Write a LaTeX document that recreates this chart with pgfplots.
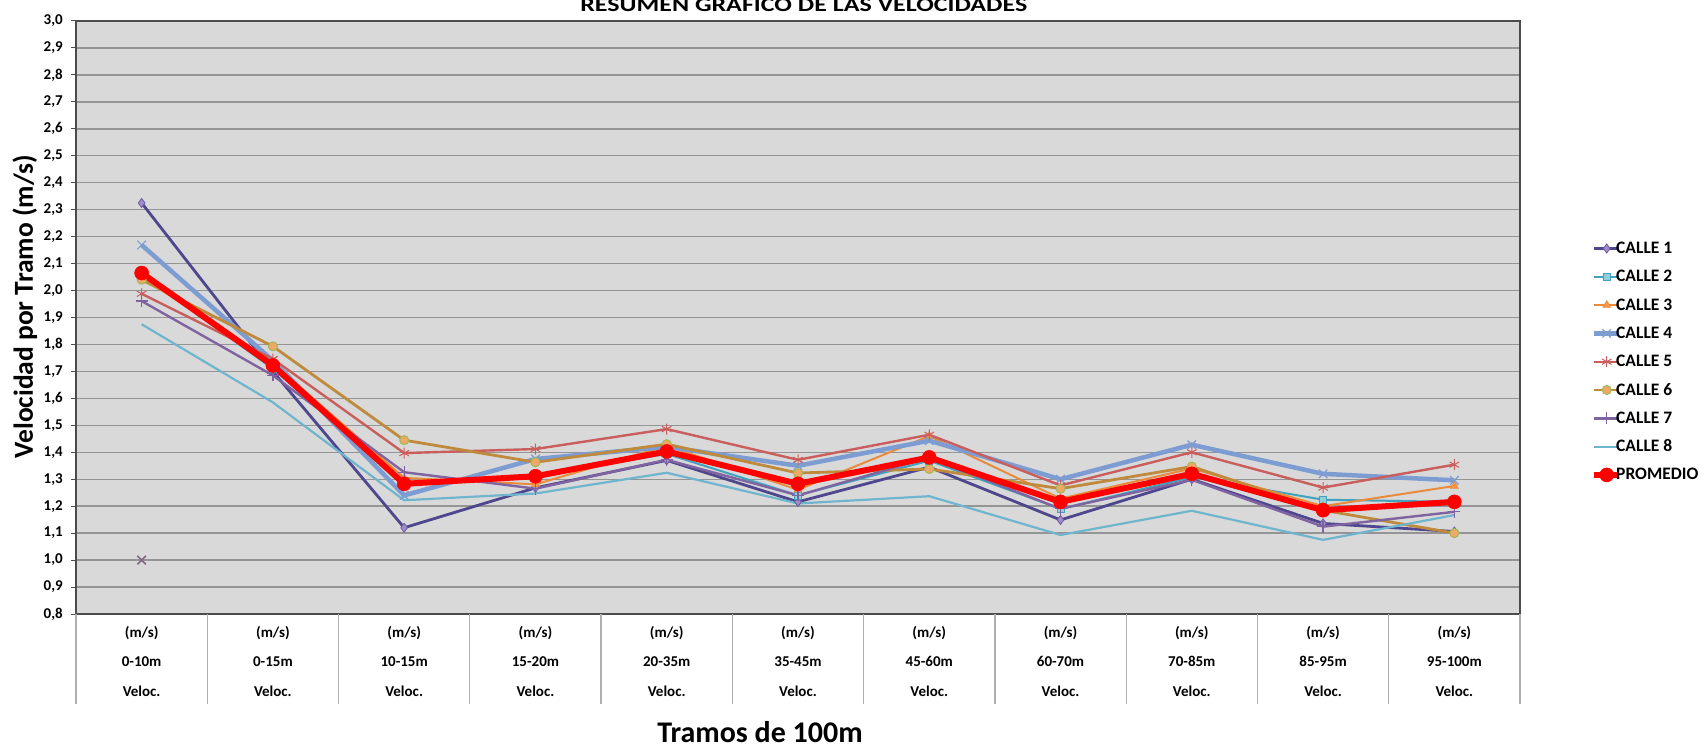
\documentclass[border=0pt]{standalone}
\usepackage{fontspec}
\setmainfont{Carlito}
\usepackage{graphicx}
\usepackage{pgfplots}
\pgfplotsset{compat=1.18}
\definecolor{plotbg}{HTML}{D9D9D9}
\definecolor{gridc}{HTML}{959595}
\definecolor{sepc}{HTML}{B0B0B0}
\definecolor{c1}{HTML}{4E478E}
\definecolor{c1m}{HTML}{A08CC8}
\definecolor{c1d}{HTML}{6B5AA6}
\definecolor{c2}{HTML}{3FA3BE}
\definecolor{c2m}{HTML}{93CDDD}
\definecolor{c3}{HTML}{E98B3A}
\definecolor{c3m}{HTML}{F79646}
\definecolor{c4}{HTML}{7D9DD2}
\definecolor{c5}{HTML}{C95E5C}
\definecolor{c6}{HTML}{BF8A3C}
\definecolor{c6m}{HTML}{F2A766}
\definecolor{c6d}{HTML}{9BBB59}
\definecolor{c7}{HTML}{8064A2}
\definecolor{c8}{HTML}{6FB5CE}
\begin{document}
\begin{tikzpicture}
\begin{axis}[
  scale only axis, width=1444pt, height=593pt,
  xmin=-0.5, xmax=10.5, ymin=0.8, ymax=3.0,
  axis background/.style={fill=plotbg},
  axis line style={draw=black!70, line width=1.4pt},
  tick pos=left,
  ymajorgrids, grid style={draw=gridc, line width=1.4pt},
  ytick={0.8,0.9,1.0,1.1,1.2,1.3,1.4,1.5,1.6,1.7,1.8,1.9,2.0,2.1,2.2,2.3,2.4,2.5,2.6,2.7,2.8,2.9,3.0},
  yticklabel style={font=\bfseries\fontsize{15}{17}\selectfont, inner sep=0pt, xshift=-8pt},
  /pgf/number format/.cd, use comma, fixed, fixed zerofill, precision=1, assume math mode=true,
  /pgfplots/.cd,
  tick align=outside, major tick length=5pt,
  ytick style={draw=black!70, line width=1pt},
  xtick={0,1,2,3,4,5,6,7,8,9,10},
  xtick style={draw=none},
  xticklabels={{(m/s)\\0-10m\\Veloc.},{(m/s)\\0-15m\\Veloc.},{(m/s)\\10-15m\\Veloc.},{(m/s)\\15-20m\\Veloc.},{(m/s)\\20-35m\\Veloc.},{(m/s)\\35-45m\\Veloc.},{(m/s)\\45-60m\\Veloc.},{(m/s)\\60-70m\\Veloc.},{(m/s)\\70-85m\\Veloc.},{(m/s)\\85-95m\\Veloc.},{(m/s)\\95-100m\\Veloc.}},
  xticklabel style={align=center, font=\bfseries\fontsize{15}{29.5}\selectfont, inner sep=0pt, anchor=north, yshift=-7pt},
  extra x ticks={-0.5,0.5,1.5,2.5,3.5,4.5,5.5,6.5,7.5,8.5,9.5,10.5},
  extra x tick labels={},
  extra x tick style={grid=none, major tick length=90pt, tick align=outside, xtick style={draw=sepc, line width=1.2pt}},
  xlabel={Tramos de 100m},
  xlabel style={font=\bfseries\fontsize{30}{34}\selectfont, at={(axis description cs:0.4737,-0.199)}, anchor=center},
  ylabel={Velocidad por Tramo (m/s)},
  ylabel style={font=\bfseries\fontsize{27.5}{31}\selectfont, at={(axis description cs:-0.0355,0.518)}, anchor=center},
  title={\scalebox{1.3}[1]{RESUMEN GRÁFICO DE LAS VELOCIDADES}},
  title style={font=\bfseries\fontsize{20}{23}\selectfont, at={(axis description cs:0.504,1)}, anchor=base, yshift=3pt, inner sep=0pt},
  legend cell align=left,
  legend style={at={(1.0492,0.6285)}, anchor=north west, draw=none, fill=none, inner sep=0pt,
    font=\bfseries\fontsize{17.5}{20}\selectfont, row sep=14.3pt,
    nodes={inner sep=0pt, text height=12pt, text depth=2pt},
    /tikz/every odd column/.append style={column sep=-6pt}},
  legend image code/.code={\draw[mark repeat=2, mark phase=2] plot coordinates {(0pt,0pt) (12.5pt,0pt) (25pt,0pt)};},
]
% CALLE 1
\addplot[color=c1, line width=2.8pt, mark=diamond*, mark size=4.5pt, mark options={fill=c1m, draw=c1d, line width=0.8pt}]
  coordinates {(0,2.325) (1,1.700) (2,1.120) (3,1.268) (4,1.370) (5,1.216) (6,1.345) (7,1.149) (8,1.300) (9,1.136) (10,1.106)};
\addlegendentry{CALLE 1}
% CALLE 2
\addplot[color=c2, line width=2pt, mark=square*, mark size=3.5pt, mark options={fill=c2m, draw=c2, line width=0.8pt}]
  coordinates {(0,2.060) (1,1.710) (2,1.283) (3,1.311) (4,1.394) (5,1.240) (6,1.369) (7,1.190) (8,1.308) (9,1.224) (10,1.216)};
\addlegendentry{CALLE 2}
% CALLE 3
\addplot[color=c3, line width=2pt, mark=triangle*, mark size=4.5pt, mark options={fill=c3m, draw=c3, line width=0.6pt}]
  coordinates {(0,2.050) (1,1.730) (2,1.305) (3,1.281) (4,1.424) (5,1.261) (6,1.460) (7,1.228) (8,1.340) (9,1.200) (10,1.275)};
\addlegendentry{CALLE 3}
% CALLE 4
\addplot[color=c4, line width=4.5pt, mark=x, mark size=6pt, mark options={line width=1.2pt}]
  coordinates {(0,2.169) (1,1.740) (2,1.240) (3,1.375) (4,1.420) (5,1.350) (6,1.443) (7,1.300) (8,1.428) (9,1.320) (10,1.296)};
\addlegendentry{CALLE 4}
% CALLE 5
\addplot[color=c5, line width=2.4pt, mark=asterisk, mark size=5.5pt, mark options={draw=c5, line width=1pt}]
  coordinates {(0,1.988) (1,1.746) (2,1.397) (3,1.412) (4,1.486) (5,1.372) (6,1.465) (7,1.277) (8,1.400) (9,1.269) (10,1.354)};
\addlegendentry{CALLE 5}
% CALLE 6
\addplot[color=c6, line width=2.8pt, mark=*, mark size=4.5pt, mark options={fill=c6m, draw=c6d, line width=1pt}]
  coordinates {(0,2.040) (1,1.793) (2,1.445) (3,1.363) (4,1.430) (5,1.323) (6,1.338) (7,1.265) (8,1.347) (9,1.185) (10,1.100)};
\addlegendentry{CALLE 6}
% CALLE 7
\addplot[color=c7, line width=2.4pt, mark=+, mark size=6pt, mark options={line width=1.2pt}]
  coordinates {(0,1.961) (1,1.685) (2,1.326) (3,1.265) (4,1.372) (5,1.240) (6,1.380) (7,1.190) (8,1.298) (9,1.124) (10,1.179)};
\addlegendentry{CALLE 7}
% CALLE 8
\addplot[color=c8, line width=2.2pt]
  coordinates {(0,1.875) (1,1.585) (2,1.222) (3,1.247) (4,1.324) (5,1.210) (6,1.237) (7,1.093) (8,1.183) (9,1.075) (10,1.167)};
\addlegendentry{CALLE 8}
% PROMEDIO
\addplot[color=red, line width=6pt, mark=*, mark size=7pt, mark options={fill=red, draw=red, line width=0.5pt}]
  coordinates {(0,2.065) (1,1.722) (2,1.283) (3,1.311) (4,1.403) (5,1.283) (6,1.381) (7,1.216) (8,1.320) (9,1.185) (10,1.216)};
\addlegendentry{PROMEDIO}
% lone point
\addplot[forget plot, only marks, mark=x, mark size=6pt, mark options={draw=gray!80!violet, line width=1.5pt}]
  coordinates {(0,1.0)};
\end{axis}
\pgfresetboundingbox
\useasboundingbox (-76pt,-133pt) rectangle (1632pt,614pt);
\end{tikzpicture}
\end{document}
